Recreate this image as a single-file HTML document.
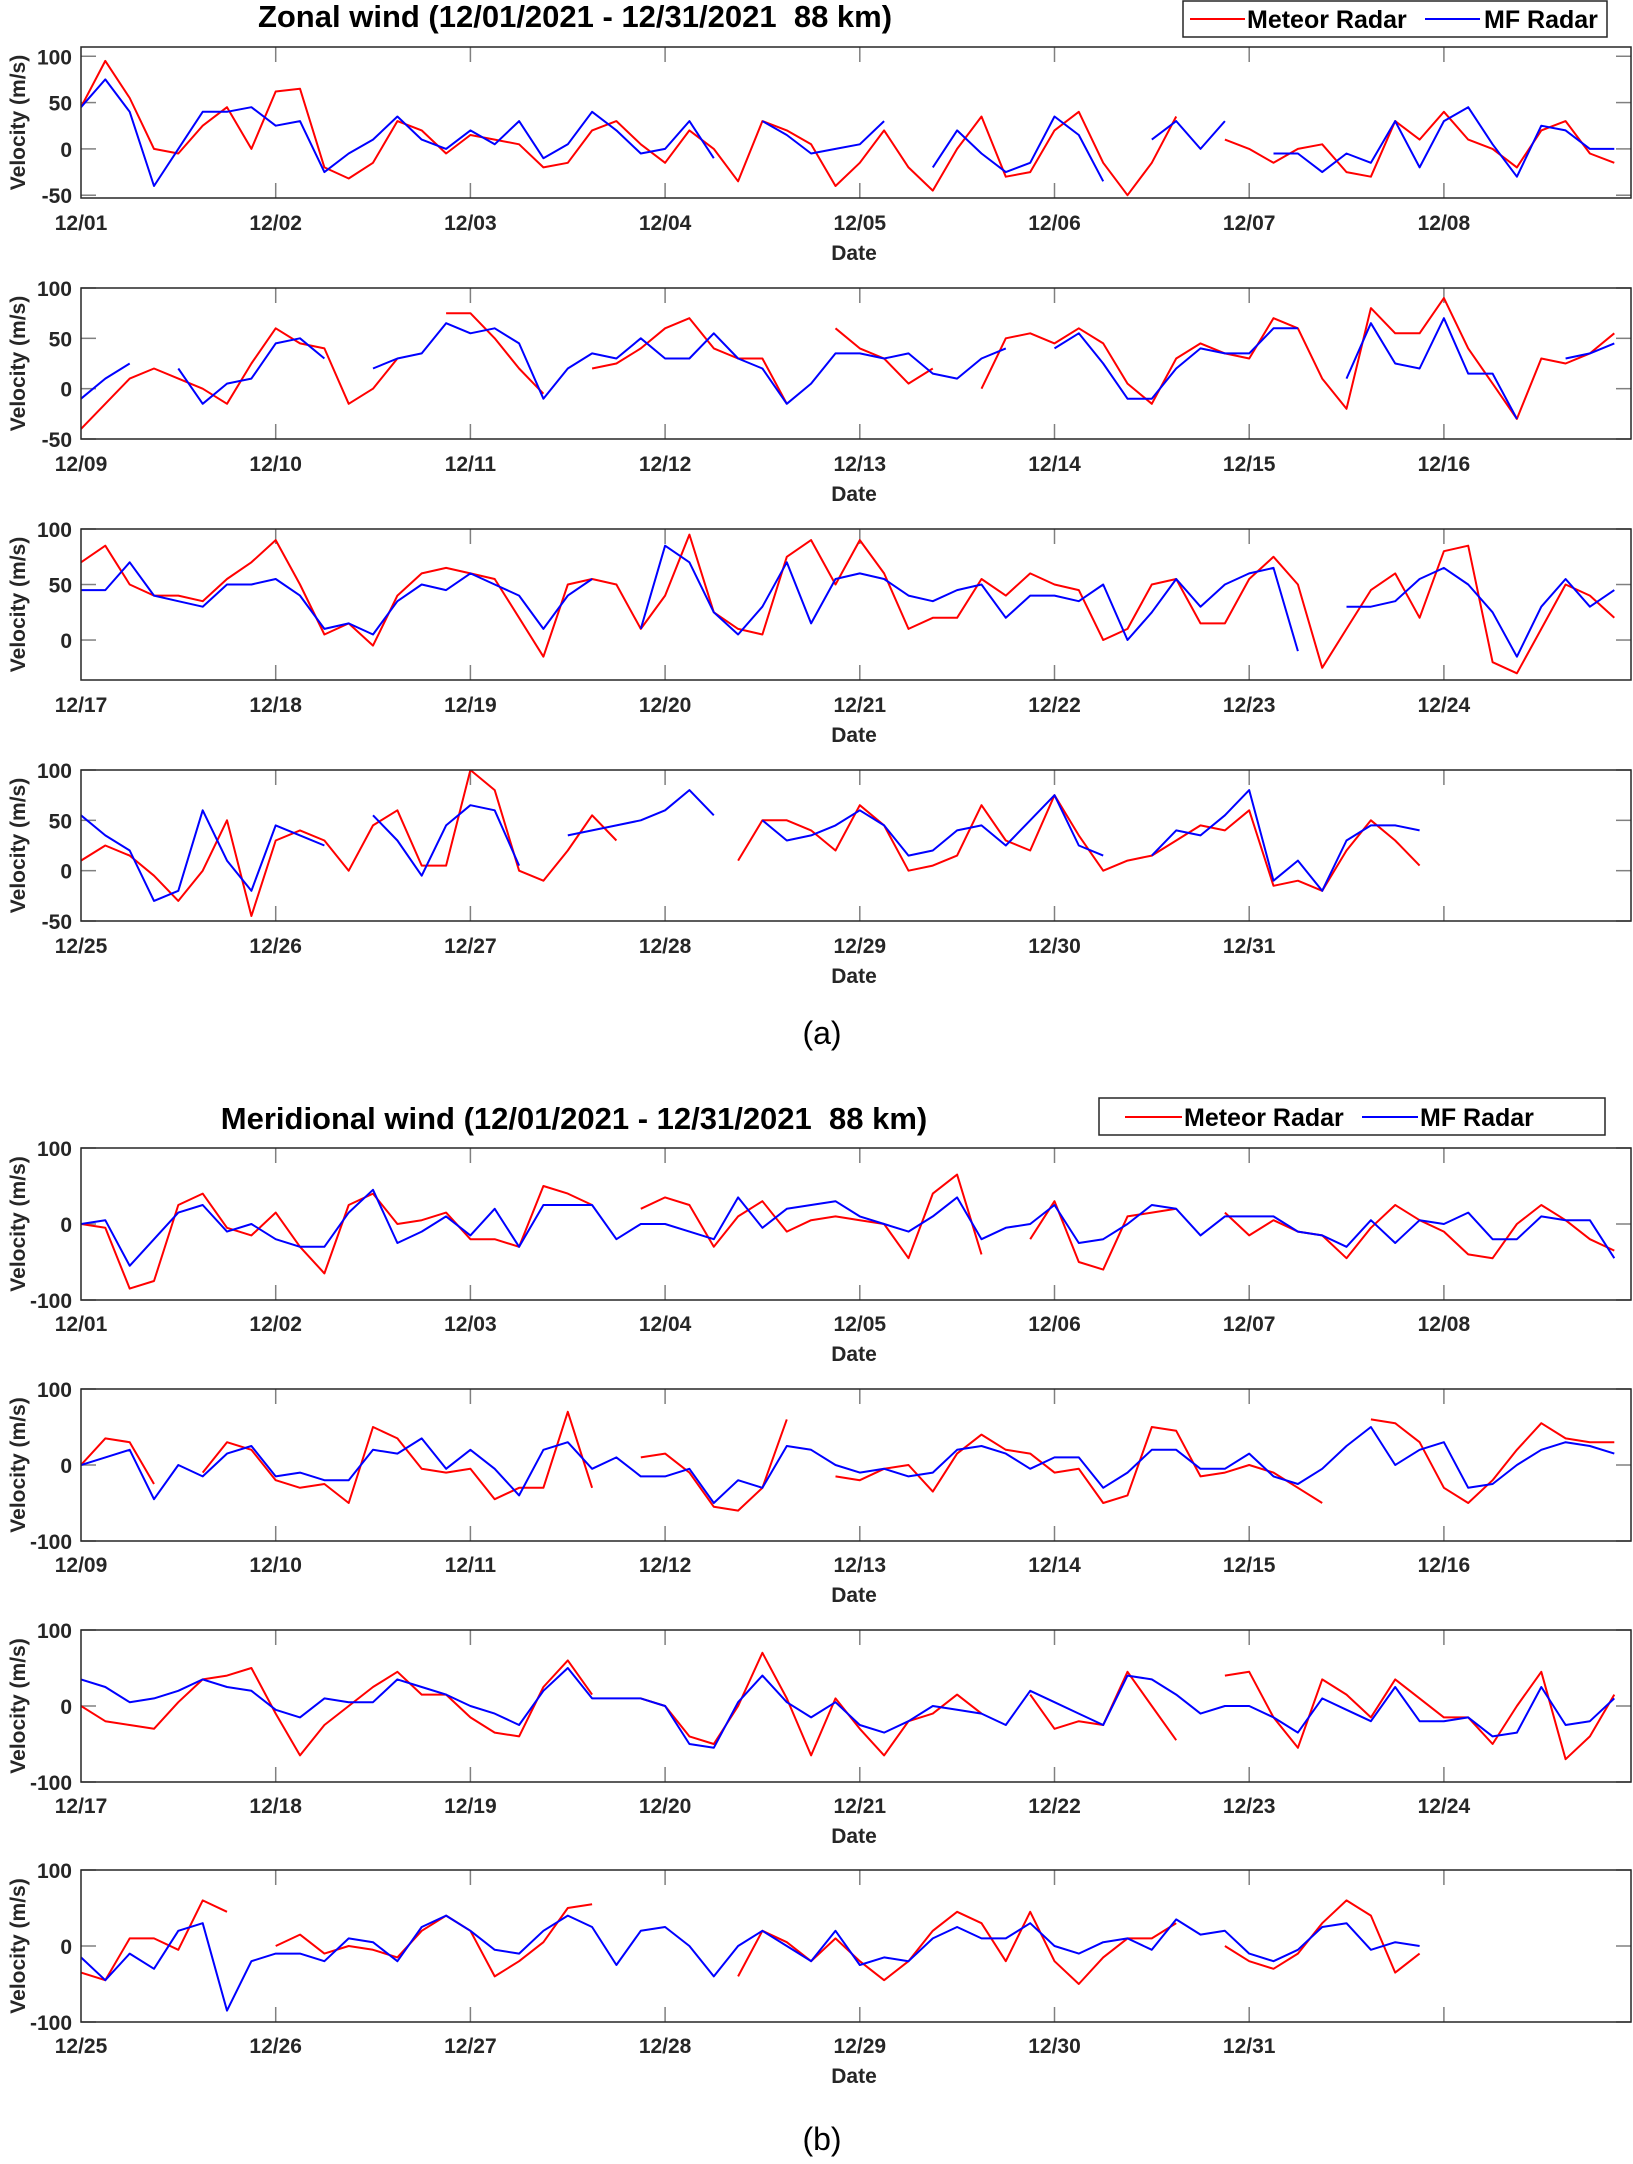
<!DOCTYPE html>
<html><head><meta charset="utf-8"><style>
html,body{margin:0;padding:0;background:#fff;}
svg{display:block;font-family:"Liberation Sans",Arial,sans-serif;}
</style></head><body>
<svg id="fig" width="1633" height="2164" viewBox="0 0 1633 2164" xmlns="http://www.w3.org/2000/svg">
<rect width="1633" height="2164" fill="#fff"/>
<text x="575" y="27" font-size="31" font-weight="bold" text-anchor="middle" fill="#000">Zonal wind (12/01/2021 - 12/31/2021 &#160;88 km)</text>
<g>
<rect x="1183" y="1" width="424" height="36" fill="#fff" stroke="#262626" stroke-width="1.5"/>
<line x1="1190" y1="19" x2="1245" y2="19" stroke="#f00" stroke-width="2"/>
<text x="1247" y="28" font-size="25" font-weight="bold">Meteor Radar</text>
<line x1="1425" y1="19" x2="1480" y2="19" stroke="#00f" stroke-width="2"/>
<text x="1484" y="28" font-size="25" font-weight="bold">MF Radar</text>
</g>
<text x="822" y="1044" font-size="32" text-anchor="middle">(a)</text>
<text x="574" y="1129" font-size="31" font-weight="bold" text-anchor="middle" fill="#000">Meridional wind (12/01/2021 - 12/31/2021 &#160;88 km)</text>
<g>
<rect x="1099" y="1098" width="506" height="37" fill="#fff" stroke="#262626" stroke-width="1.5"/>
<line x1="1125" y1="1117" x2="1182" y2="1117" stroke="#f00" stroke-width="2"/>
<text x="1184" y="1126" font-size="25" font-weight="bold">Meteor Radar</text>
<line x1="1362" y1="1117" x2="1418" y2="1117" stroke="#00f" stroke-width="2"/>
<text x="1420" y="1126" font-size="25" font-weight="bold">MF Radar</text>
</g>
<text x="822" y="2150" font-size="32" text-anchor="middle">(b)</text>
</svg>
<script>
const zonalMeteor = [
45,95,55,0,-5,25,45,0, 62,65,-20,-32,-15,30,20,-5, 15,10,5,-20,-15,20,30,5, -15,20,0,-35,30,20,5,-40,
-15,20,-20,-45,0,35,-30,-25, 20,40,-15,-50,-15,35,null,10, 0,-15,0,5,-25,-30,30,10, 40,10,0,-20,20,30,-5,-15,
-40,-15,10,20,10,0,-15,25, 60,45,40,-15,0,30,null,75, 75,50,20,-5,null,20,25,40, 60,70,40,30,30,-15,null,60,
40,30,5,20,null,0,50,55, 45,60,45,5,-15,30,45,35, 30,70,60,10,-20,80,55,55, 90,40,5,-30,30,25,35,55,
70,85,50,40,40,35,55,70, 90,50,5,15,-5,40,60,65, 60,55,20,-15,50,55,50,10, 40,95,25,10,5,75,90,50,
90,60,10,20,20,55,40,60, 50,45,0,10,50,55,15,15, 55,75,50,-25,10,45,60,20, 80,85,-20,-30,10,50,40,20,
10,25,15,-5,-30,0,50,-45, 30,40,30,0,45,60,5,5, 100,80,0,-10,20,55,30,null, null,null,null,10,50,50,40,20,
65,45,0,5,15,65,30,20, 75,35,0,10,15,30,45,40, 60,-15,-10,-20,20,50,30,5];
const zonalMF = [
45,75,40,-40,0,40,40,45, 25,30,-25,-5,10,35,10,0, 20,5,30,-10,5,40,20,-5, 0,30,-10,null,30,15,-5,0,
5,30,null,-20,20,-5,-25,-15, 35,15,-35,null,10,30,0,30, null,-5,-5,-25,-5,-15,30,-20, 30,45,5,-30,25,20,0,0,
-10,10,25,null,20,-15,5,10, 45,50,30,null,20,30,35,65, 55,60,45,-10,20,35,30,50, 30,30,55,30,20,-15,5,35,
35,30,35,15,10,30,40,null, 40,55,25,-10,-10,20,40,35, 35,60,60,null,10,65,25,20, 70,15,15,-30,null,30,35,45,
45,45,70,40,35,30,50,50, 55,40,10,15,5,35,50,45, 60,50,40,10,40,55,null,10, 85,70,25,5,30,70,15,55,
60,55,40,35,45,50,20,40, 40,35,50,0,25,55,30,50, 60,65,-10,null,30,30,35,55, 65,50,25,-15,30,55,30,45,
55,35,20,-30,-20,60,10,-20, 45,35,25,null,55,30,-5,45, 65,60,5,null,35,40,45,50, 60,80,55,null,50,30,35,45,
60,45,15,20,40,45,25,50, 75,25,15,null,15,40,35,55, 80,-10,10,-20,30,45,45,40];
const meridMeteor = [
0,-5,-85,-75,25,40,-5,-15, 15,-30,-65,25,40,0,5,15, -20,-20,-30,50,40,25,null,20, 35,25,-30,10,30,-10,5,10,
5,0,-45,40,65,-40,null,-20, 30,-50,-60,10,15,20,null,15, -15,5,-10,-15,-45,-5,25,5, -10,-40,-45,0,25,5,-20,-35,
0,35,30,-25,null,-10,30,20, -20,-30,-25,-50,50,35,-5,-10, -5,-45,-30,-30,70,-30,null,10, 15,-10,-55,-60,-30,60,null,-15,
-20,-5,0,-35,15,40,20,15, -10,-5,-50,-40,50,45,-15,-10, 0,-10,-30,-50,null,60,55,30, -30,-50,-20,20,55,35,30,30,
0,-20,-25,-30,5,35,40,50, -10,-65,-25,0,25,45,15,15, -15,-35,-40,25,60,15,null,10, 0,-40,-50,0,70,10,-65,10,
-30,-65,-20,-10,15,-10,null,15, -30,-20,-25,45,0,-45,null,40, 45,-15,-55,35,15,-15,35,10, -15,-15,-50,0,45,-70,-40,15,
-35,-45,10,10,-5,60,45,null, 0,15,-10,0,-5,-15,20,40, 20,-40,-20,5,50,55,null,-20, null,null,null,-40,20,5,-20,10,
-20,-45,-20,20,45,30,-20,45, -20,-50,-15,10,10,30,null,0, -20,-30,-10,30,60,40,-35,-10];
const meridMF = [
0,5,-55,-20,15,25,-10,0, -20,-30,-30,15,45,-25,-10,10, -15,20,-30,25,25,25,-20,0, 0,-10,-20,35,-5,20,25,30,
10,0,-10,10,35,-20,-5,0, 25,-25,-20,0,25,20,-15,10, 10,10,-10,-15,-30,5,-25,5, 0,15,-20,-20,10,5,5,-45,
0,10,20,-45,0,-15,15,25, -15,-10,-20,-20,20,15,35,-5, 20,-5,-40,20,30,-5,10,-15, -15,-5,-50,-20,-30,25,20,0,
-10,-5,-15,-10,20,25,15,-5, 10,10,-30,-10,20,20,-5,-5, 15,-15,-25,-5,25,50,0,20, 30,-30,-25,0,20,30,25,15,
35,25,5,10,20,35,25,20, -5,-15,10,5,5,35,25,15, 0,-10,-25,20,50,10,10,10, 0,-50,-55,5,40,5,-15,5,
-25,-35,-20,0,-5,-10,-25,20, 5,-10,-25,40,35,15,-10,0, 0,-15,-35,10,-5,-20,25,-20, -20,-15,-40,-35,25,-25,-20,10,
-15,-45,-10,-30,20,30,-85,-20, -10,-10,-20,10,5,-20,25,40, 20,-5,-10,20,40,25,-25,20, 25,0,-40,0,20,0,-20,20,
-25,-15,-20,10,25,10,10,30, 0,-10,5,10,-5,35,15,20, -10,-20,-5,25,30,-5,5,0];
const zonalYTicks = [[100,50,0,-50],[100,50,0,-50],[100,50,0],[100,50,0,-50]];
const zonalYLims = [[-53,110],[-50,100],[-36,100],[-50,100]];
const meridYTicks = [100,0,-100];
const meridYLim = [-100,100];
const samplesPerDay = 8;

const NS = "http://www.w3.org/2000/svg";
const svg = document.getElementById('fig');
const X0 = 81, X1 = 1631, DAYW = 194.7;
function mk(tag, attrs){ const e=document.createElementNS(NS,tag); for(const k in attrs) e.setAttribute(k,attrs[k]); return e; }

function panel(group, top, h, ylim, yticks, p, series, nameBase){
  const bottom = top + h;
  const xs = d => X0 + d*DAYW;
  const ys = v => bottom - (v - ylim[0])/(ylim[1]-ylim[0])*h;
  const g = mk('g',{});
  
  
  group.appendChild(g);
  const cid = nameBase+'clip'+p;
  const cp = mk('clipPath',{id:cid}); cp.appendChild(mk('rect',{x:X0,y:top,width:X1-X0,height:h})); g.appendChild(cp);
  const nDays = p===3 ? 7 : 8;
  for(let d=0; d<8; d++){
    const x = xs(d);
    if(d>0){
      g.appendChild(mk('line',{x1:x,y1:top,x2:x,y2:top+15,stroke:'#808080','stroke-width':1.5}));
      g.appendChild(mk('line',{x1:x,y1:bottom,x2:x,y2:bottom-15,stroke:'#808080','stroke-width':1.5}));
    }
    if(d<nDays){
      const t = mk('text',{x:x,y:top+183,'font-size':21,'font-weight':'bold','text-anchor':'middle',fill:'#262626'});
      
      
      const day = p*8+d+1;
      t.textContent = '12/'+(day<10?'0'+day:day);
      g.appendChild(t);
    }
  }
  yticks.forEach(v=>{
    const y = ys(v);
    g.appendChild(mk('line',{x1:X0,y1:y,x2:X0+15,y2:y,stroke:'#808080','stroke-width':1.5}));
    g.appendChild(mk('line',{x1:X1,y1:y,x2:X1-15,y2:y,stroke:'#808080','stroke-width':1.5}));
    const t = mk('text',{x:72,y:y+8,'font-size':21,'font-weight':'bold','text-anchor':'end',fill:'#262626'});
    
    
    t.textContent = v;
    g.appendChild(t);
  });
  const yl = mk('text',{x:0,y:0,'font-size':21,'font-weight':'bold','text-anchor':'middle',fill:'#262626',transform:'translate(25,'+(top+h/2)+') rotate(-90)'});
  
  
  yl.textContent = 'Velocity (m/s)';
  g.appendChild(yl);
  const xl = mk('text',{x:854,y:top+213,'font-size':21,'font-weight':'bold','text-anchor':'middle',fill:'#262626'});
  
  
  xl.textContent = 'Date';
  g.appendChild(xl);
  series.forEach(s=>{
    let d = '', pen = false;
    const start = p*8*samplesPerDay;
    for(let i=start; i<Math.min(s.data.length, start+8*samplesPerDay+1); i++){
      const v = s.data[i];
      const t = (i - start)/samplesPerDay;
      if(v===null || v===undefined || t>7.97){ pen=false; continue; }
      d += (pen?'L':'M') + xs(t).toFixed(1) + ' ' + ys(v).toFixed(1) + ' ';
      pen = true;
    }
    const path = mk('path',{d:d,fill:'none',stroke:s.color,'stroke-width':2,'stroke-linejoin':'round','clip-path':'url(#'+cid+')'});
    
    
    g.appendChild(path);
  });
  g.appendChild(mk('rect',{x:X0,y:top,width:X1-X0,height:h,fill:'none',stroke:'#262626','stroke-width':1.5}));
}

const ga = mk('g',{});


svg.appendChild(ga);
const gb = mk('g',{});


svg.appendChild(gb);
const topsA = [47,288,529,770], topsB = [1148,1389,1630,1870];
for(let p=0;p<4;p++){
  panel(ga, topsA[p], 151, zonalYLims[p], zonalYTicks[p], p,
    [{data:zonalMeteor,color:'#ff0000',name:'zonal-meteor'},{data:zonalMF,color:'#0000ff',name:'zonal-mf'}], 'zonal');
  panel(gb, topsB[p], 152, meridYLim, meridYTicks, p,
    [{data:meridMeteor,color:'#ff0000',name:'merid-meteor'},{data:meridMF,color:'#0000ff',name:'merid-mf'}], 'merid');
}
</script>
</body></html>
